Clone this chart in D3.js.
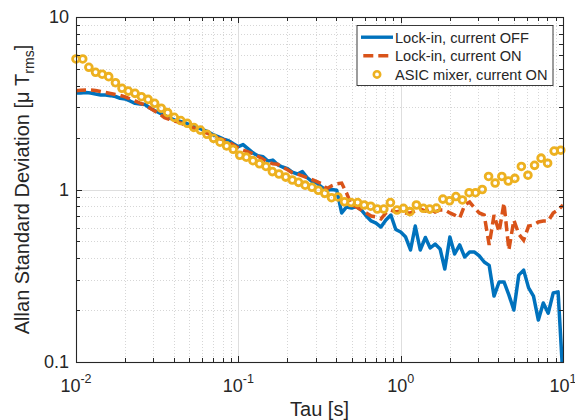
<!DOCTYPE html>
<html>
<head>
<meta charset="utf-8">
<script src="https://cdn.jsdelivr.net/npm/d3@7"></script>
<style>
body { margin: 0; background: #fff; }
text { font-family: "Liberation Sans", Arial, sans-serif; fill: #262626; }
</style>
</head>
<body>
<script>
// tau grid of the lock-in measurements [s]
var tauLockin = [0.01, 0.0107, 0.0115, 0.0123, 0.0132, 0.0142, 0.0152, 0.0163, 0.0175, 0.0187, 0.0201,
  0.0215, 0.0231, 0.0248, 0.0266, 0.0285, 0.0305, 0.0327, 0.0351, 0.0376, 0.0404, 0.0433, 0.0464,
  0.0498, 0.0534, 0.0572, 0.0614, 0.0658, 0.0705, 0.0756, 0.0811, 0.087, 0.0933,
  0.1, 0.107, 0.115, 0.123, 0.132, 0.142, 0.152, 0.163, 0.175, 0.187, 0.201, 0.215, 0.231, 0.248,
  0.266, 0.285, 0.305, 0.327, 0.351, 0.376, 0.404, 0.433, 0.464, 0.498, 0.534, 0.572, 0.614, 0.658,
  0.705, 0.756, 0.811, 0.87, 0.933,
  1, 1.07, 1.15, 1.23, 1.32, 1.42, 1.52, 1.63, 1.75, 1.87, 2.01, 2.15, 2.31, 2.48, 2.66, 2.85, 3.05,
  3.27, 3.51, 3.76, 4.04, 4.33, 4.64, 4.98, 5.34, 5.72, 6.14, 6.58, 7.05, 7.56, 8.11, 8.7, 9.33, 10];

var lockinOff = [3.63, 3.63, 3.65, 3.63, 3.58, 3.53, 3.53, 3.50, 3.46, 3.38,
  3.35, 3.26, 3.16, 3.13, 3.11, 2.97, 2.87, 2.78, 2.69, 2.60,
  2.53, 2.49, 2.45, 2.38, 2.33, 2.27, 2.21, 2.15, 2.07, 2.02,
  1.96, 1.92, 1.84, 1.77, 1.82, 1.72, 1.63, 1.57, 1.55, 1.46,
  1.48, 1.39, 1.35, 1.32, 1.26, 1.23, 1.27, 1.17, 1.11, 1.09,
  1.03, 0.99, 1.00, 0.99, 0.731, 0.792, 0.781, 0.797, 0.761, 0.702,
  0.657, 0.639, 0.606, 0.665, 0.711, 0.586, 0.567, 0.533, 0.446, 0.614,
  0.446, 0.527, 0.458, 0.483, 0.452, 0.346, 0.530, 0.423, 0.477, 0.406,
  0.434, 0.434, 0.412, 0.380, 0.363, 0.241, 0.291, 0.291, 0.245, 0.200,
  0.319, 0.341, 0.269, 0.241, 0.175, 0.220, 0.192, 0.251, 0.255, 0.08];

var lockinOn = [3.74, 3.76, 3.77, 3.77, 3.75, 3.70, 3.65, 3.60, 3.55, 3.51,
  3.44, 3.35, 3.26, 3.17, 3.09, 2.97, 2.85, 2.74, 2.61, 2.55,
  2.49, 2.45, 2.38, 2.33, 2.27, 2.21, 2.15, 2.10, 2.04, 1.98,
  1.94, 1.89, 1.81, 1.74, 1.69, 1.65, 1.61, 1.56, 1.50, 1.44,
  1.41, 1.40, 1.35, 1.30, 1.25, 1.23, 1.20, 1.17, 1.14, 1.11,
  1.08, 1.01, 1.05, 1.08, 1.09, 0.954, 0.813, 0.792, 0.761, 0.731,
  0.702, 0.693, 0.675, 0.731, 0.761, 0.741, 0.750, 0.731, 0.731, 0.750,
  0.771, 0.750, 0.771, 0.741, 0.761, 0.761, 0.731, 0.711, 0.684, 0.813,
  0.846, 0.781, 0.731, 0.711, 0.477, 0.711, 0.567, 0.835, 0.446, 0.665,
  0.552, 0.509, 0.614, 0.622, 0.648, 0.657, 0.657, 0.731, 0.761, 0.813];

// tau grid of the ASIC mixer measurement [s]
var tauAsic = [0.0100, 0.0110, 0.0120, 0.0132, 0.0145, 0.0159, 0.0175, 0.0192, 0.0210, 0.0231,
  0.0253, 0.0278, 0.0305, 0.0335, 0.0367, 0.0403, 0.0442, 0.0485, 0.0532, 0.0584, 0.0641, 0.0703,
  0.0772, 0.0847, 0.0930,
  0.102, 0.112, 0.123, 0.135, 0.148, 0.162, 0.178, 0.196, 0.215, 0.235, 0.258, 0.284, 0.311, 0.341,
  0.375, 0.411, 0.451, 0.495, 0.543, 0.596, 0.654, 0.718, 0.788, 0.865, 0.949,
  1.04, 1.14, 1.25, 1.38, 1.51, 1.66, 1.82, 2.00, 2.19, 2.40, 2.64, 2.89, 3.18, 3.48, 3.82, 4.20,
  4.60, 5.05, 5.54, 6.08, 6.68, 7.33, 8.04, 8.82, 9.68];

var asicOn = [5.71, 5.71, 5.11, 4.78, 4.66, 4.51, 4.16, 3.86, 3.72, 3.61,
  3.45, 3.33, 3.16, 2.96, 2.79, 2.62, 2.51, 2.42, 2.29, 2.21,
  2.09, 1.98, 1.88, 1.79, 1.71, 1.58, 1.54, 1.47, 1.41, 1.36,
  1.27, 1.23, 1.18, 1.135, 1.10, 1.06, 1.03, 0.99, 0.95, 0.896,
  0.905, 0.849, 0.84, 0.84, 0.813, 0.80, 0.771, 0.77, 0.84, 0.76,
  0.778, 0.744, 0.813, 0.778, 0.77, 0.78, 0.88, 0.86, 0.91, 0.87,
  0.958, 0.958, 1.00, 1.19, 1.09, 1.19, 1.12, 1.16, 1.36, 1.21,
  1.38, 1.52, 1.42, 1.67, 1.69];

var seriesNames = ['Lock-in, current OFF', 'Lock-in, current ON', 'ASIC mixer, current ON'];
var xExponents = [-2, -1, 0, 1];
var yTickValues = [0.1, 1, 10];
var yTickLabels = ['0.1', '1', '10'];

var blue = '#0072BD', orange = '#D95319', yellow = '#EDB120', ink = '#262626';

var svg = d3.select('body').append('svg')
  .attr('width', 575)
  .attr('height', 420);

var pL = 76, pR = 563, pT = 17, pB = 362;

var x = d3.scaleLog().domain([0.01, 10]).range([pL, pR]);
var y = d3.scaleLog().domain([0.1, 10]).range([pB, pT]);

function isMajor(v) { return Math.abs(Math.log10(v) - Math.round(Math.log10(v))) < 1e-9; }
var xMinor = x.ticks().filter(function(v) { return !isMajor(v); });
var yMinor = y.ticks().filter(function(v) { return !isMajor(v); });
var xMajor = xExponents.map(function(e) { return Math.pow(10, e); });

// grid
var grid = svg.append('g');
grid.selectAll('.gxm').data(xMinor).enter().append('line')
  .attr('x1', function(d) { return Math.round(x(d)) + 0.5; })
  .attr('x2', function(d) { return Math.round(x(d)) + 0.5; })
  .attr('y1', pT).attr('y2', pB)
  .attr('stroke', '#d6d6d6').attr('stroke-dasharray', '1,2');
grid.selectAll('.gym').data(yMinor).enter().append('line')
  .attr('y1', function(d) { return Math.round(y(d)) + 0.5; })
  .attr('y2', function(d) { return Math.round(y(d)) + 0.5; })
  .attr('x1', pL).attr('x2', pR)
  .attr('stroke', '#d6d6d6').attr('stroke-dasharray', '1,2');
grid.selectAll('.gx').data(xMajor).enter().append('line')
  .attr('x1', function(d) { return Math.round(x(d)) + 0.5; })
  .attr('x2', function(d) { return Math.round(x(d)) + 0.5; })
  .attr('y1', pT).attr('y2', pB)
  .attr('stroke', '#dedede');
grid.selectAll('.gy').data(yTickValues).enter().append('line')
  .attr('y1', function(d) { return Math.round(y(d)) + 0.5; })
  .attr('y2', function(d) { return Math.round(y(d)) + 0.5; })
  .attr('x1', pL).attr('x2', pR)
  .attr('stroke', '#dedede');

// clip for lines
svg.append('clipPath').attr('id', 'plotclip')
  .append('rect').attr('x', pL).attr('y', pT)
  .attr('width', pR - pL).attr('height', pB - pT);

var line = d3.line()
  .x(function(d) { return x(d[0]); })
  .y(function(d) { return y(d[1]); });

var offPts = d3.zip(tauLockin, lockinOff);
var onPts = d3.zip(tauLockin, lockinOn);
var asicPts = d3.zip(tauAsic, asicOn);

var plot = svg.append('g').attr('clip-path', 'url(#plotclip)');

plot.append('path')
  .attr('d', line(offPts))
  .attr('fill', 'none')
  .attr('stroke', blue)
  .attr('stroke-width', 3.5)
  .attr('stroke-linejoin', 'round');

plot.append('path')
  .attr('d', line(onPts))
  .attr('fill', 'none')
  .attr('stroke', orange)
  .attr('stroke-width', 3.5)
  .attr('stroke-dasharray', '10,5');

svg.append('g').selectAll('circle').data(asicPts).enter().append('circle')
  .attr('cx', function(d) { return x(d[0]); })
  .attr('cy', function(d) { return y(d[1]); })
  .attr('r', 3.4)
  .attr('fill', 'none')
  .attr('stroke', yellow)
  .attr('stroke-width', 2.8);

// ticks (inside, on all four sides)
function tickGroup(axis, tx, ty) {
  var g = svg.append('g')
    .attr('transform', 'translate(' + tx + ',' + ty + ')')
    .attr('color', ink)
    .attr('shape-rendering', 'crispEdges')
    .call(axis);
  g.select('.domain').remove();
  g.selectAll('text').remove();
}
tickGroup(d3.axisBottom(x).tickValues(xMajor).tickSize(-6).tickFormat(''), 0, pB);
tickGroup(d3.axisBottom(x).tickValues(xMinor).tickSize(-4).tickFormat(''), 0, pB);
tickGroup(d3.axisTop(x).tickValues(xMajor).tickSize(-6).tickFormat(''), 0, pT);
tickGroup(d3.axisTop(x).tickValues(xMinor).tickSize(-4).tickFormat(''), 0, pT);
tickGroup(d3.axisLeft(y).tickValues(yTickValues).tickSize(-6).tickFormat(''), pL, 0);
tickGroup(d3.axisLeft(y).tickValues(yMinor).tickSize(-4).tickFormat(''), pL, 0);
tickGroup(d3.axisRight(y).tickValues(yTickValues).tickSize(-6).tickFormat(''), pR, 0);
tickGroup(d3.axisRight(y).tickValues(yMinor).tickSize(-4).tickFormat(''), pR, 0);

// box
svg.append('rect')
  .attr('x', pL + 0.5).attr('y', pT + 0.5)
  .attr('width', pR - pL).attr('height', pB - pT)
  .attr('fill', 'none')
  .attr('stroke', ink)
  .attr('stroke-width', 1.1);

// x tick labels 10^n
xExponents.forEach(function(e) {
  var t = svg.append('text')
    .attr('x', x(Math.pow(10, e)))
    .attr('y', 392)
    .attr('text-anchor', 'middle')
    .attr('font-size', 18);
  t.append('tspan').text('10');
  t.append('tspan').attr('dy', -9).attr('font-size', 12.5).text(String(e));
});

// y tick labels
svg.selectAll('.ylab').data(yTickValues).enter().append('text')
  .attr('x', 69)
  .attr('y', function(d) { return y(d) + 6.3; })
  .attr('text-anchor', 'end')
  .attr('font-size', 18)
  .text(function(d, i) { return yTickLabels[i]; });

// axis labels
svg.append('text')
  .attr('x', (pL + pR) / 2)
  .attr('y', 416)
  .attr('text-anchor', 'middle')
  .attr('font-size', 20)
  .text('Tau [s]');

var yl = svg.append('text')
  .attr('transform', 'translate(29,' + ((pT + pB) / 2) + ') rotate(-90)')
  .attr('text-anchor', 'middle')
  .attr('font-size', 20);
yl.append('tspan').text('Allan Standard Deviation [\u03bc T');
yl.append('tspan').attr('dy', 5).attr('font-size', 14).text('rms');
yl.append('tspan').attr('dy', -5).text(']');

// legend
var lg = svg.append('g');
lg.append('rect')
  .attr('x', 357).attr('y', 25.5)
  .attr('width', 196).attr('height', 60)
  .attr('fill', '#fff')
  .attr('stroke', ink)
  .attr('stroke-width', 0.9);
var rows = [37.2, 55.8, 74.4];
lg.append('line').attr('x1', 361).attr('x2', 393).attr('y1', rows[0]).attr('y2', rows[0])
  .attr('stroke', blue).attr('stroke-width', 3.4);
lg.append('line').attr('x1', 363.3).attr('x2', 388.3).attr('y1', rows[1]).attr('y2', rows[1])
  .attr('stroke', orange).attr('stroke-width', 3.4).attr('stroke-dasharray', '10,5');
lg.append('circle').attr('cx', 377).attr('cy', rows[2]).attr('r', 3.2)
  .attr('fill', 'none').attr('stroke', yellow).attr('stroke-width', 2.6);
lg.selectAll('.lt').data(seriesNames).enter().append('text')
  .attr('x', 395)
  .attr('y', function(d, i) { return rows[i] + 5.4; })
  .attr('font-size', 14.6)
  .text(function(d) { return d; });
</script>
</body>
</html>
